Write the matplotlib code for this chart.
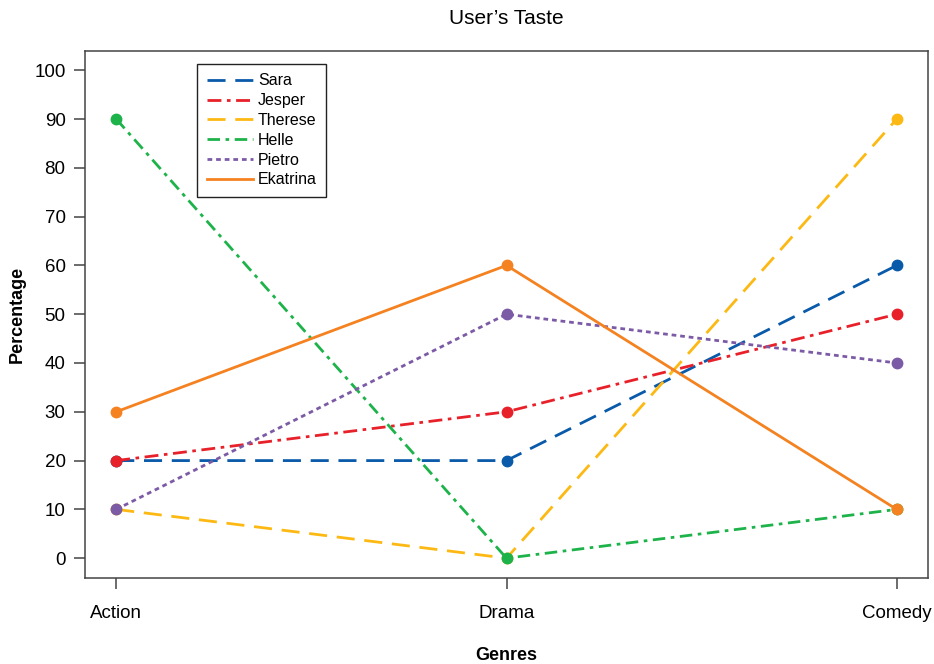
import matplotlib
matplotlib.use("Agg")
import matplotlib.pyplot as plt

plt.rcParams['font.family'] = ['Liberation Sans', 'DejaVu Sans']

genres = ["Action", "Drama", "Comedy"]
names = ["Sara", "Jesper", "Therese", "Helle", "Pietro", "Ekatrina"]
sara = [20, 20, 60]
jesper = [20, 30, 50]
therese = [10, 0, 90]
helle = [90, 0, 10]
pietro = [10, 50, 40]
ekatrina = [30, 60, 10]
yticks = list(range(0, 101, 10))

series = [sara, jesper, therese, helle, pietro, ekatrina]
colors = ["#0A5AAA", "#E8202A", "#FDB913", "#1DB34A", "#7C5BA6", "#F58220"]
dashes = [(6.5, 3.5), (5.0, 2.0, 1.3, 2.0), (6.5, 3.5), (4.5, 2.0, 1.3, 2.0), (1.7, 1.4), None]

fig = plt.figure(figsize=(9.34, 6.64), dpi=100)
ax = fig.add_axes([85/934, 1-577.7/664, (928-85)/934, (577.7-50.7)/664])

x = list(range(len(genres)))
for name, vals, c, d in zip(names, series, colors, dashes):
    kw = {}
    if d is not None:
        kw['dashes'] = d
    ax.plot(x, vals, color=c, lw=2.0, marker='o', markersize=7.5,
            label=name, **kw)

ax.set_xlim(-0.08, 2.08)
ax.set_ylim(-4, 104)
ax.set_xticks(x)
ax.set_xticklabels(genres)
ax.set_yticks(yticks)
ax.tick_params(axis='both', labelsize=13.5, length=8, width=1.1, color='#444444',
               direction='out', pad=6)
ax.tick_params(axis='x', pad=12)
for s in ax.spines.values():
    s.set_color('#444444')
    s.set_linewidth(1.1)

ax.set_title("User\u2019s Taste", fontsize=15, pad=19)
ax.set_xlabel("Genres", fontsize=13, fontweight='bold', labelpad=18)
ax.set_ylabel("Percentage", fontsize=13, fontweight='bold', labelpad=6)

leg = ax.legend(loc='upper left', bbox_to_anchor=(0.133, 0.975), borderaxespad=0,
                fontsize=11.5, handlelength=2.9, handletextpad=0.3,
                labelspacing=0.3, fancybox=False, framealpha=1,
                edgecolor='#222222', borderpad=0.6)
leg.get_frame().set_linewidth(1.0)
for h in leg.legend_handles:
    h.set_marker('')

fig.savefig("out.png", dpi=100)
